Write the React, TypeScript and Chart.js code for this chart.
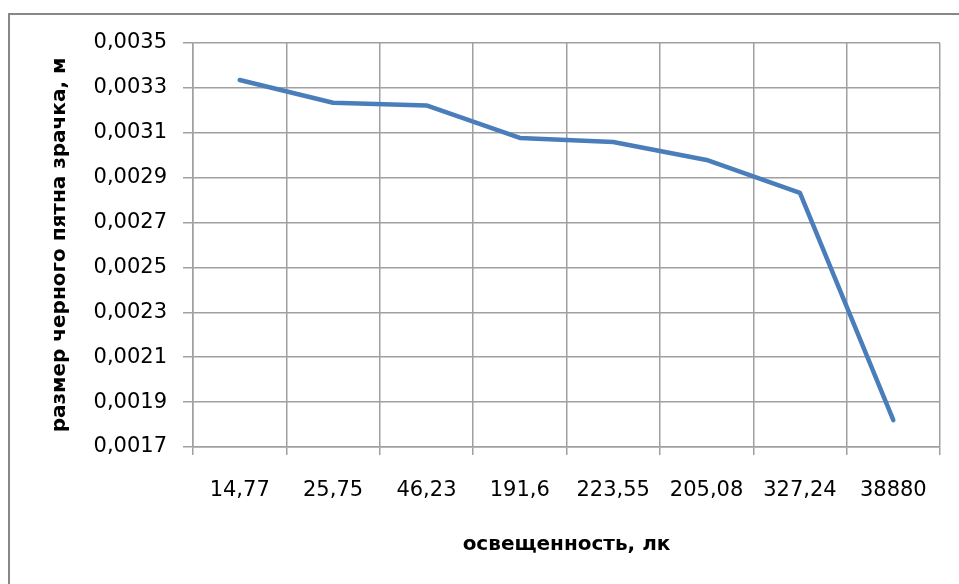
import React, { useEffect, useRef } from "react";
import { Chart, registerables } from "chart.js";

Chart.register(...registerables);

const categories = ["14,77", "25,75", "46,23", "191,6", "223,55", "205,08", "327,24", "38880"];
const pupilSize = [0.003335, 0.003234, 0.003222, 0.003077, 0.003059, 0.002979, 0.002832, 0.00182];
const yMin = 0.0017;
const yMax = 0.0035;
const yStep = 0.0002;
const xTitle = "освещенность, лк";
const yTitle = "размер черного пятна зрачка, м";

const FONT = "'DejaVu Sans', sans-serif";
const GRID = "#a0a0a0";

const framePlugin = {
  id: "frame",
  beforeDraw(chart: any) {
    const ctx = chart.ctx;
    ctx.save();
    ctx.fillStyle = "#ffffff";
    ctx.fillRect(0, 0, chart.width, chart.height);
    ctx.strokeStyle = "#878787";
    ctx.lineWidth = 2;
    ctx.strokeRect(9, 14, 1000, 1000);
    ctx.restore();
  },
};

export default function App() {
  const ref = useRef<HTMLCanvasElement | null>(null);
  useEffect(() => {
    document.body.style.margin = "0";
    if (!ref.current) return;
    const chart = new Chart(ref.current, {
      type: "line",
      data: {
        labels: categories,
        datasets: [
          {
            data: pupilSize,
            borderColor: "#4a7ebb",
            borderWidth: 4.5,
            borderCapStyle: "round",
            borderJoinStyle: "round",
            pointRadius: 0,
            tension: 0,
            fill: false,
          },
        ],
      },
      options: {
        animation: false,
        responsive: false,
        devicePixelRatio: 1,
        layout: { padding: { left: 0, top: 43, right: 19, bottom: 0 } },
        plugins: { legend: { display: false }, tooltip: { enabled: false } },
        scales: {
          x: {
            offset: true,
            grid: { offset: true, color: GRID, lineWidth: 1.5, tickLength: 8, drawTicks: true },
            border: { color: GRID, width: 1.5 },
            ticks: { color: "#000", font: { family: FONT, size: 21 }, padding: 23, maxRotation: 0, autoSkip: false },
            title: {
              display: true,
              text: xTitle,
              color: "#000",
              font: { family: FONT, size: 20, weight: "bold" },
              padding: { top: 0, bottom: 27 },
            },
            afterFit(scale: any) {
              scale.height = 137;
            },
          },
          y: {
            min: yMin,
            max: yMax,
            grid: { color: GRID, lineWidth: 1.5, tickLength: 10 },
            border: { color: GRID, width: 1.5 },
            ticks: {
              stepSize: yStep,
              color: "#000",
              font: { family: FONT, size: 21 },
              padding: 16,
              callback: (v: any) => Number(v).toFixed(4).replace(".", ","),
            },
            title: {
              display: true,
              text: yTitle,
              color: "#000",
              font: { family: FONT, size: 20, weight: "bold" },
              padding: { top: 48, bottom: 0 },
            },
            afterFit(scale: any) {
              scale.width = 193;
            },
          },
        },
      },
      plugins: [framePlugin],
    } as any);
    return () => chart.destroy();
  }, []);
  return <canvas ref={ref} width={959} height={584} style={{ display: "block" }} />;
}
